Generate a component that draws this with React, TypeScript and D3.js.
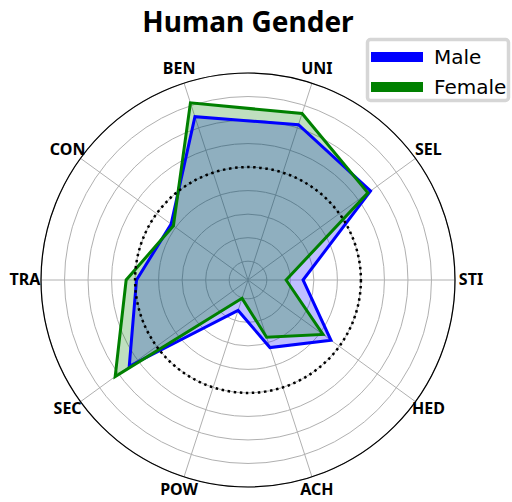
import React, { useEffect, useRef } from 'react';
import * as d3 from 'd3';

const categories = ['STI', 'SEL', 'UNI', 'BEN', 'CON', 'TRA', 'SEC', 'POW', 'ACH', 'HED'];
const male = [-1.23, 0.82, 1.07, 1.25, -0.38, -0.03, 0.72, -1.72, -0.89, -0.22];
const female = [-1.59, 0.75, 1.32, 1.56, -0.44, 0.19, 1.09, -1.99, -1.12, -0.43];
const ringTicks = [-2, -1.5, -1, -0.5, 0, 0.5, 1, 1.5, 2];
const seriesNames = ['Male', 'Female'];
const seriesColors = ['#0000ff', '#008000'];

const width = 512;
const height = 502;
const cx = 248;
const cy = 280;
const outerR = 207;

const drawChart = (node: SVGSVGElement) => {
  const svg = d3.select(node);
  svg.selectAll('*').remove();

  const r = d3.scaleLinear().domain([-2.4, 2.0]).range([0, outerR]);
  // math angle, ccw from east
  const theta = (i: number) => (i * 2 * Math.PI) / categories.length;

  const g = svg.append('g').attr('transform', `translate(${cx},${cy})`);

  // grid rings
  g.selectAll('circle.ring')
    .data(ringTicks)
    .enter()
    .append('circle')
    .attr('r', (d) => r(d))
    .attr('fill', 'none')
    .attr('stroke', '#b0b0b0')
    .attr('stroke-width', 1);

  // spokes
  g.selectAll('line.spoke')
    .data(categories)
    .enter()
    .append('line')
    .attr('x1', 0)
    .attr('y1', 0)
    .attr('x2', (d, i) => outerR * Math.cos(theta(i)))
    .attr('y2', (d, i) => -outerR * Math.sin(theta(i)))
    .attr('stroke', '#b0b0b0')
    .attr('stroke-width', 1);

  const line = d3
    .lineRadial<number>()
    .angle((d, i) => Math.PI / 2 - theta(i))
    .radius((d) => r(d))
    .curve(d3.curveLinearClosed);

  [male, female].forEach((vals, k) => {
    g.append('path')
      .attr('d', line(vals))
      .attr('fill', seriesColors[k])
      .attr('fill-opacity', 0.25)
      .attr('stroke', 'none');
  });
  [male, female].forEach((vals, k) => {
    g.append('path')
      .attr('d', line(vals))
      .attr('fill', 'none')
      .attr('stroke', seriesColors[k])
      .attr('stroke-width', 3)
      .attr('stroke-linejoin', 'miter');
  });

  // zero reference
  g.append('circle')
    .attr('r', r(0))
    .attr('fill', 'none')
    .attr('stroke', '#000')
    .attr('stroke-width', 2.5)
    .attr('stroke-dasharray', '2.5 3.6');

  // outer spine
  g.append('circle')
    .attr('r', outerR)
    .attr('fill', 'none')
    .attr('stroke', '#000')
    .attr('stroke-width', 1.2);

  // category labels
  g.selectAll('text.cat')
    .data(categories)
    .enter()
    .append('text')
    .attr('x', (d, i) => (outerR + 16) * Math.cos(theta(i)))
    .attr('y', (d, i) => -(outerR + 14) * Math.sin(theta(i)) - 1.5)
    .attr('text-anchor', 'middle')
    .attr('dominant-baseline', 'central')
    .attr('font-family', 'Noto Sans')
    .attr('font-weight', 'bold')
    .attr('font-size', 16)
    .text((d) => d);

  // title
  svg.append('text')
    .attr('x', cx)
    .attr('y', 31.5)
    .attr('text-anchor', 'middle')
    .attr('font-family', 'Noto Sans')
    .attr('font-weight', 'bold')
    .attr('font-size', 28)
    .text('Human Gender');

  // legend
  const lg = svg.append('g');
  lg.append('rect')
    .attr('x', 367.5)
    .attr('y', 39.5)
    .attr('width', 141)
    .attr('height', 61)
    .attr('rx', 3)
    .attr('fill', '#fff')
    .attr('stroke', '#d6d6d6')
    .attr('stroke-width', 3.5);
  seriesNames.forEach((name, k) => {
    const y = 57 + k * 30;
    lg.append('line')
      .attr('x1', 371)
      .attr('x2', 423)
      .attr('y1', y)
      .attr('y2', y)
      .attr('stroke', seriesColors[k])
      .attr('stroke-width', 10);
    lg.append('text')
      .attr('x', 434)
      .attr('y', y + 7)
      .attr('font-family', 'DejaVu Sans')
      .attr('font-size', 20)
      .text(name);
  });
};

const App = () => {
  const ref = useRef<SVGSVGElement>(null);
  useEffect(() => {
    if (ref.current) drawChart(ref.current);
  }, []);
  return (
    <div style={{ position: 'absolute', left: 0, top: 0 }}>
      <svg ref={ref} width={width} height={height} style={{ display: 'block', background: '#fff' }} />
    </div>
  );
};

export default App;
